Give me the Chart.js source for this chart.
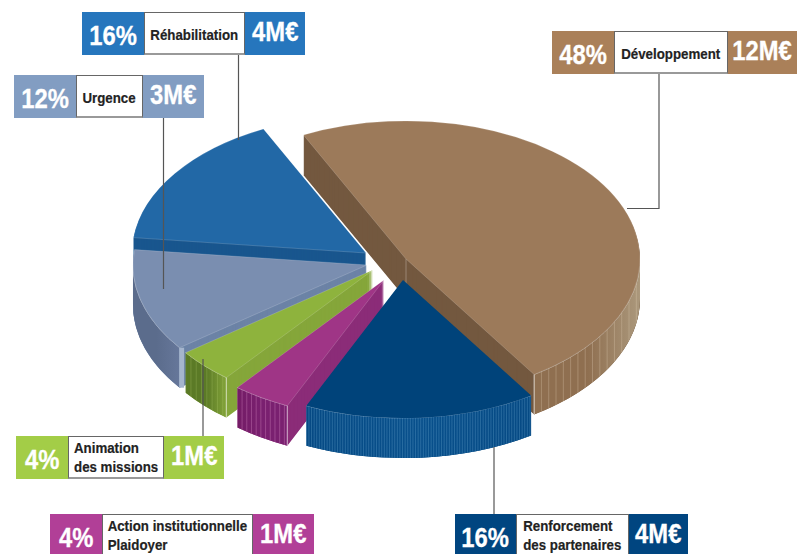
<!DOCTYPE html>
<html><head><meta charset="utf-8">
<script src="https://cdn.jsdelivr.net/npm/chart.js@4/dist/chart.umd.min.js"></script>
<style>
html,body{margin:0;padding:0;background:#fff;width:797px;height:554px;overflow:hidden}
#wrap{position:relative;width:797px;height:554px;overflow:hidden;font-family:"Liberation Sans",sans-serif;font-weight:700}
canvas{position:absolute;left:0;top:0}
.box{position:absolute;display:flex;align-items:stretch;height:43px;box-sizing:border-box}
.pct,.amt{color:#fff;display:flex;align-items:center;justify-content:center;font-size:28px;box-sizing:border-box;white-space:nowrap;-webkit-text-stroke:.3px #fff}
.pct span,.amt span{display:inline-block;transform:scaleX(.85)}
.pct span{position:relative;top:2px}.amt span{position:relative;top:-2px}
.name{background:#fff;color:#222;font-size:15.5px;line-height:19px;display:flex;align-items:center;justify-content:center;border:1px solid #666;border-bottom:2px solid #999;box-sizing:border-box;-webkit-text-stroke:.2px #222}
.name span{display:inline-block;white-space:pre;transform:scaleX(.857);flex:none;position:relative}
.name.one span{top:1px}
</style></head><body>
<div id="wrap"><canvas id="c" width="797" height="554"></canvas></div>
<script>
// ---- data ----
const categories = ["Développement","Renforcement\ndes partenaires","Action institutionnelle\nPlaidoyer","Animation\ndes missions","Urgence","Réhabilitation"];
const percents = [48,16,4,4,12,16];
const amounts = ["12M€","4M€","1M€","1M€","3M€","4M€"];

// ---- style ----
const topColors  = ["#9c7a5a","#00437a","#9f3586","#8eb33d","#7a8eb0","#2268a6"];
const sideColors = ["#73583f","#00437a","#8b2c78","#85a63a","#6c83a6","#19568e"];
const wallStops  = [["#8f6f50","#8f6f50","#ab987c"],["#064a84","#08508c","#064a84"],["#741c66","#7a2070","#7a2070"],["#5b7a26","#5b7a26","#82a338"],["#5b6c8c","#5b6c8c","#66779a"],["#19568e","#19568e","#19568e"]];
const stripes    = [{step:7.3,c:"rgba(225,205,180,.40)"},{step:2.6,c:"rgba(120,175,215,.38)"},{step:4.7,c:"rgba(215,140,195,.45)"},{step:5.3,c:"rgba(190,215,120,.30)"},null,null];
const explode    = [[21,-6],[18,15],[-1,15],[-12,5],[-18,0],[-19,-12]];
const drawOrder  = [0,5,4,3,2,1];
const brand      = ["#aa8059","#004580","#b13f97","#a3cd47","#829dc2","#2676bd"];
const TILT=0.59, DEPTH=40, RADIUS=234;
const boxes = [
 {x:552,y:31,w:[62,114,69]},{x:455,y:514,w:[61,113,59]},{x:50,y:514,w:[52,151,61]},
 {x:16,y:436,w:[52,96,60]},{x:14,y:75,w:[62,67,61]},{x:82,y:12,w:[62,101,60]}];
const leaders = [[[659,74],[659,208.5],[627,208.5]],[[494,447],[494,514]],[],[[203,359],[203,436]],[[163.5,118],[163.5,289]],[[238.5,55],[238.5,140]]];

const wrap=document.getElementById('wrap');
categories.forEach((n,i)=>{
  const b=boxes[i],d=document.createElement('div');
  d.className='box';d.style.left=b.x+'px';d.style.top=b.y+'px';
  d.innerHTML=`<div class="pct" style="width:${b.w[0]}px;background:${brand[i]}"><span>${percents[i]}%</span></div>`+
   `<div class="name${n.includes('\n')?'':' one'}" style="width:${b.w[1]}px"><span></span></div>`+
   `<div class="amt" style="width:${b.w[2]}px;background:${brand[i]}"><span>${amounts[i]}</span></div>`;
  d.querySelector('.name span').textContent=n;
  wrap.appendChild(d);
});

function drawTop(ctx,el,i,color,z,border){
  const o=el.options;
  el.options=Object.assign({},o,{backgroundColor:color,borderWidth:border?0.7:0,borderColor:border||'transparent',offset:0,spacing:0});
  ctx.save();
  ctx.translate(el.x+explode[i][0],el.y+explode[i][1]+z);
  ctx.scale(1,TILT);
  ctx.translate(-el.x,-el.y);
  el.draw(ctx);
  ctx.restore();
  el.options=o;
}
function drawWall(ctx,el,i){
  const cx=el.x+explode[i][0],cy=el.y+explode[i][1],r=el.outerRadius;
  const TAU=2*Math.PI;
  let s=el.startAngle,e=el.endAngle;
  while(s<0){s+=TAU;e+=TAU;}
  while(s>=TAU){s-=TAU;e-=TAU;}
  if(s>=Math.PI){
    if(e<=TAU)return;
    s-=TAU;e-=TAU;        // slice crosses the rightmost point
  }
  s=Math.max(s,0);
  e=Math.min(e,Math.PI);
  const xs=cx+r*Math.cos(s),xe=cx+r*Math.cos(e),xmin=Math.min(xs,xe),xmax=Math.max(xs,xe);
  ctx.save();
  ctx.beginPath();
  ctx.ellipse(cx,cy,r,r*TILT,0,s,e,false);
  ctx.ellipse(cx,cy+DEPTH,r,r*TILT,0,e,s,true);
  ctx.closePath();
  const g=ctx.createLinearGradient(xmin,0,xmax,0);
  g.addColorStop(0,wallStops[i][0]);g.addColorStop(.5,wallStops[i][1]);g.addColorStop(1,wallStops[i][2]);
  ctx.fillStyle=g;ctx.fill();
  ctx.clip();
  if(stripes[i]){
    ctx.strokeStyle=stripes[i].c;ctx.lineWidth=.8;
    for(let x=xmin;x<xmax;x+=stripes[i].step){
      ctx.beginPath();ctx.moveTo(x,cy-10);ctx.lineTo(x,cy+r*TILT+DEPTH+10);ctx.stroke();
    }
  }
  ctx.restore();
  // lit rim and lit end corner
  ctx.save();
  ctx.strokeStyle='rgba(255,255,255,.45)';ctx.lineWidth=.8;
  ctx.beginPath();ctx.ellipse(cx,cy,r,r*TILT,0,s,e,false);ctx.stroke();
  if(i!==1&&i!==5){
    const a=(i===0)?e:s, xa=cx+r*Math.cos(a), ya=cy+r*TILT*Math.sin(a);
    ctx.lineWidth=(i===4)?5:1.2;
    ctx.strokeStyle=(i===4)?'#a5b5cd':'rgba(255,255,255,.55)';
    const xc=(i===4)?xa+2:xa;
    ctx.beginPath();ctx.moveTo(xc,ya);ctx.lineTo(xc,ya+DEPTH);ctx.stroke();
  }
  ctx.restore();
}
const pie3d={
  id:'pie3d',
  beforeDatasetsDraw(chart){
    const ctx=chart.ctx,arcs=chart.getDatasetMeta(0).data;
    drawOrder.forEach(i=>{
      const el=arcs[i];
      for(let z=DEPTH;z>=1;z--) drawTop(ctx,el,i,sideColors[i],z);
      drawWall(ctx,el,i);
      if(i===0){
        const ax=el.x+explode[0][0],ay=el.y+explode[0][1];
        ctx.save();ctx.strokeStyle='rgba(255,255,255,.35)';ctx.lineWidth=.8;
        ctx.beginPath();ctx.moveTo(ax,ay);ctx.lineTo(ax,ay+DEPTH);ctx.stroke();ctx.restore();
      }
      drawTop(ctx,el,i,topColors[i],0,i===1?null:'rgba(255,255,255,.30)');
    });
    ctx.save();ctx.strokeStyle='#555';ctx.lineWidth=1.2;
    leaders.forEach(l=>{if(!l.length)return;ctx.beginPath();l.forEach((p,k)=>k?ctx.lineTo(p[0],p[1]):ctx.moveTo(p[0],p[1]));ctx.stroke();});
    ctx.restore();
    return false;
  }
};
new Chart(document.getElementById('c'),{
  type:'pie',
  data:{labels:categories,datasets:[{data:percents,backgroundColor:topColors,borderWidth:0}]},
  options:{responsive:false,animation:false,rotation:-26,radius:RADIUS,
    layout:{padding:{left:0,right:27,top:0,bottom:24}},
    plugins:{legend:{display:false},tooltip:{enabled:false}}},
  plugins:[pie3d]
});
</script>
</body></html>
